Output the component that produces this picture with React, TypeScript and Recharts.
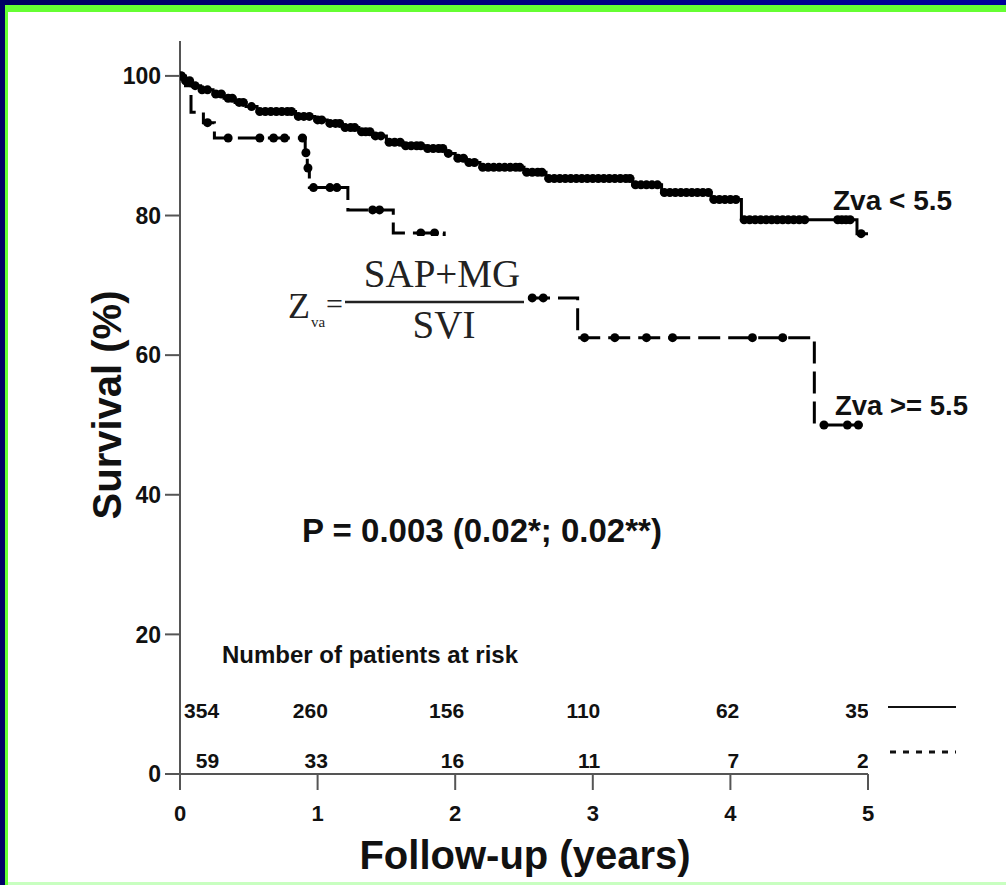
import React from 'react';
import { ComposedChart, Line, Scatter, XAxis, YAxis } from 'recharts';

// Kaplan-Meier steps (years, % survival)
const upperTimes = [0, 0.03, 0.08, 0.15, 0.24, 0.32, 0.4, 0.48, 0.56, 0.84, 0.98, 1.07, 1.18, 1.3, 1.4, 1.5, 1.62, 1.78, 1.93, 2.0, 2.08, 2.18, 2.5, 2.66, 3.29, 3.5, 3.86, 4.08, 4.92, 5.0];
const upperSurv = [100, 99.3, 98.6, 98.0, 97.4, 96.8, 96.2, 95.6, 94.9, 94.2, 93.7, 93.2, 92.6, 92.0, 91.4, 90.5, 90.0, 89.6, 88.9, 88.2, 87.6, 86.9, 86.2, 85.3, 84.4, 83.3, 82.3, 79.4, 77.4, 77.4];

const lowerTimes = [0, 0.04, 0.08, 0.17, 0.25, 0.91, 0.925, 0.94, 1.22, 1.55, 1.92, 2.89, 4.61, 4.96];
const lowerSurv = [100, 98.6, 94.8, 93.3, 91.1, 89.0, 86.8, 84.0, 80.8, 77.5, 68.2, 62.5, 50.0, 50.0];

// censored patients (tick marks)
const upperCensorTimes = [
  0.01, 0.04, 0.07, 0.11, 0.16, 0.2, 0.26, 0.3, 0.35, 0.38, 0.43, 0.46, 0.52, 0.58, 0.62, 0.66, 0.7, 0.74, 0.78, 0.81,
  0.86, 0.9, 0.94, 1.0, 1.03, 1.09, 1.13, 1.16, 1.2, 1.24, 1.27, 1.32, 1.35, 1.38, 1.42, 1.46, 1.52, 1.56, 1.6, 1.64,
  1.68, 1.72, 1.75, 1.8, 1.84, 1.88, 1.91, 1.95, 2.02, 2.06, 2.1, 2.14, 2.2, 2.24, 2.28, 2.32, 2.36, 2.4, 2.44, 2.47,
  2.52, 2.56, 2.6, 2.63, 2.68, 2.72, 2.76, 2.8, 2.84, 2.88, 2.92, 2.96, 3.0, 3.04, 3.08, 3.12, 3.16, 3.2, 3.24, 3.27,
  3.31, 3.35, 3.39, 3.43, 3.47, 3.52, 3.56, 3.6, 3.64, 3.68, 3.72, 3.76, 3.8, 3.84, 3.88, 3.92, 3.96, 4.0, 4.04, 4.1,
  4.14, 4.18, 4.22, 4.26, 4.3, 4.34, 4.38, 4.42, 4.46, 4.5, 4.54, 4.78, 4.81, 4.84, 4.87, 4.95,
];
const lowerCensorTimes = [0.01, 0.2, 0.35, 0.58, 0.68, 0.76, 0.89, 0.915, 0.93, 0.97, 1.09, 1.14, 1.4, 1.45, 1.75, 1.85, 2.56, 2.64, 2.94, 3.16, 3.39, 3.58, 4.16, 4.38, 4.68, 4.85, 4.93];

const yearTicks = [0, 1, 2, 3, 4, 5];
const survivalTicks = [0, 20, 40, 60, 80, 100];

const atRiskLow = [354, 260, 156, 110, 62, 35];
const atRiskHigh = [59, 33, 16, 11, 7, 2];

// where the at-risk columns sit (right edge, in years) and the two rows (in %)
const RISK_COL = [0.27, 1.06, 2.05, 3.04, 4.05, 4.99];
const RISK_ROW_LOW = 8.0;
const RISK_ROW_HIGH = 0.86;

const FONT = '"Liberation Sans", Arial, sans-serif';
const SERIF = '"Liberation Serif", "Times New Roman", serif';

function survivalAt(times: number[], surv: number[], t: number) {
  let s = surv[0];
  for (let i = 0; i < times.length; i++) if (times[i] <= t) s = surv[i];
  return s;
}

const upperData = upperTimes.map((t, i) => ({ t, s: upperSurv[i] }));
const lowerData = lowerTimes.map((t, i) => ({ t, s: lowerSurv[i] }));
const upperCensor = upperCensorTimes.map((t) => ({ t, s: survivalAt(upperTimes, upperSurv, t) }));
const lowerCensor = lowerCensorTimes.map((t) => ({ t, s: survivalAt(lowerTimes, lowerSurv, t) }));
const riskLowData = atRiskLow.map((n, i) => ({ t: RISK_COL[i], s: RISK_ROW_LOW, n }));
const riskHighData = atRiskHigh.map((n, i) => ({ t: RISK_COL[i], s: RISK_ROW_HIGH, n }));

const dot = (props: any) => <circle cx={props.cx} cy={props.cy} r={4.5} fill="#000" />;
const riskText = (props: any) => (
  <text x={props.cx + 2} y={props.cy} textAnchor="end" fontSize={21} fontWeight="bold" fontFamily={FONT} fill="#111">
    {props.payload.n}
  </text>
);

export default function App() {
  return (
    <div style={{ position: 'absolute', left: 0, top: 0, width: 1006, height: 885, overflow: 'hidden', background: '#ffffff' }}>
      {/* slide frame: navy edge, green rule */}
      <div style={{ position: 'absolute', left: 0, top: 0, width: 1006, height: 5, background: 'linear-gradient(90deg, #000060, #00009c)' }} />
      <div style={{ position: 'absolute', left: 0, top: 0, width: 5, height: 885, background: '#000066' }} />
      <div style={{ position: 'absolute', left: 5, top: 5, width: 1001, height: 7, background: '#66ff33' }} />
      <div style={{ position: 'absolute', left: 5, top: 5, width: 3, height: 880, background: '#66ff33' }} />
      <div style={{ position: 'absolute', left: 8, top: 882, width: 998, height: 3, background: '#c8ffc0' }} />
      <div style={{ position: 'absolute', left: 0, top: 0 }}>
        <ComposedChart width={1006} height={885} margin={{ top: 41, right: 138, bottom: 51, left: 120 }}>
          <XAxis
            type="number"
            dataKey="t"
            domain={[0, 5]}
            ticks={yearTicks}
            allowDataOverflow
            height={60}
            tickSize={16}
            tickMargin={15}
            stroke="#555"
            strokeWidth={2}
            tick={{ fontSize: 22, fontWeight: 'bold', fill: '#111', fontFamily: FONT }}
          />
          <YAxis
            type="number"
            domain={[0, 105]}
            ticks={survivalTicks}
            allowDataOverflow
            width={60}
            tickSize={15}
            tickMargin={4}
            stroke="#555"
            strokeWidth={2}
            tick={{ fontSize: 23, fontWeight: 'bold', fill: '#111', fontFamily: FONT }}
          />
          <Line data={upperData} dataKey="s" type="stepAfter" stroke="#000" strokeWidth={3} dot={false} activeDot={false} isAnimationActive={false} />
          <Line data={lowerData} dataKey="s" type="stepAfter" stroke="#000" strokeWidth={3} strokeDasharray="22 8" dot={false} activeDot={false} isAnimationActive={false} />
          <Scatter data={upperCensor} dataKey="s" shape={dot} isAnimationActive={false} />
          <Scatter data={lowerCensor} dataKey="s" shape={dot} isAnimationActive={false} />
          <Scatter data={riskLowData} dataKey="s" shape={riskText} isAnimationActive={false} />
          <Scatter data={riskHighData} dataKey="s" shape={riskText} isAnimationActive={false} />
        </ComposedChart>
      </div>
      <svg width={1006} height={885} style={{ position: 'absolute', left: 0, top: 0, pointerEvents: 'none' }}>
        <text x={107} y={405} transform="rotate(-90 107 405)" textAnchor="middle" dominantBaseline="central" fontSize={40} fontWeight="bold" fontFamily={FONT} fill="#111">
          Survival (%)
        </text>
        <text x={525} y={869} textAnchor="middle" fontSize={40} fontWeight="bold" fontFamily={FONT} fill="#111">
          Follow-up (years)
        </text>
        <text x={833} y={210} fontSize={28} fontWeight="bold" fontFamily={FONT} fill="#111">Zva &lt; 5.5</text>
        <text x={835} y={415} fontSize={27.5} fontWeight="bold" fontFamily={FONT} fill="#111">Zva &gt;= 5.5</text>
        <text x={302} y={542} fontSize={33} fontWeight="bold" fontFamily={FONT} fill="#111">P = 0.003 (0.02*; 0.02**)</text>
        <text x={222} y={663} fontSize={24} fontWeight="bold" fontFamily={FONT} fill="#111">Number of patients at risk</text>
        <line x1={888} y1={707} x2={956} y2={707} stroke="#111" strokeWidth={2} />
        <line x1={890} y1={752} x2={956} y2={752} stroke="#111" strokeWidth={3} strokeDasharray="6 7" />
        <rect x={278} y={236} width={249} height={110} fill="#fff" />
        <text x={288} y={318} fontSize={36} fontFamily={SERIF} fill="#222">Z</text>
        <text x={311} y={327} fontSize={15} fontFamily={SERIF} fill="#222">va</text>
        <text x={326} y={314} fontSize={30} fontFamily={SERIF} fill="#222">=</text>
        <line x1={345} y1={302} x2={524} y2={302} stroke="#222" strokeWidth={2.5} />
        <text x={442} y={287} textAnchor="middle" fontSize={39} fontFamily={SERIF} fill="#222">SAP+MG</text>
        <text x={444} y={338} textAnchor="middle" fontSize={39} fontFamily={SERIF} fill="#222">SVI</text>
      </svg>
    </div>
  );
}
